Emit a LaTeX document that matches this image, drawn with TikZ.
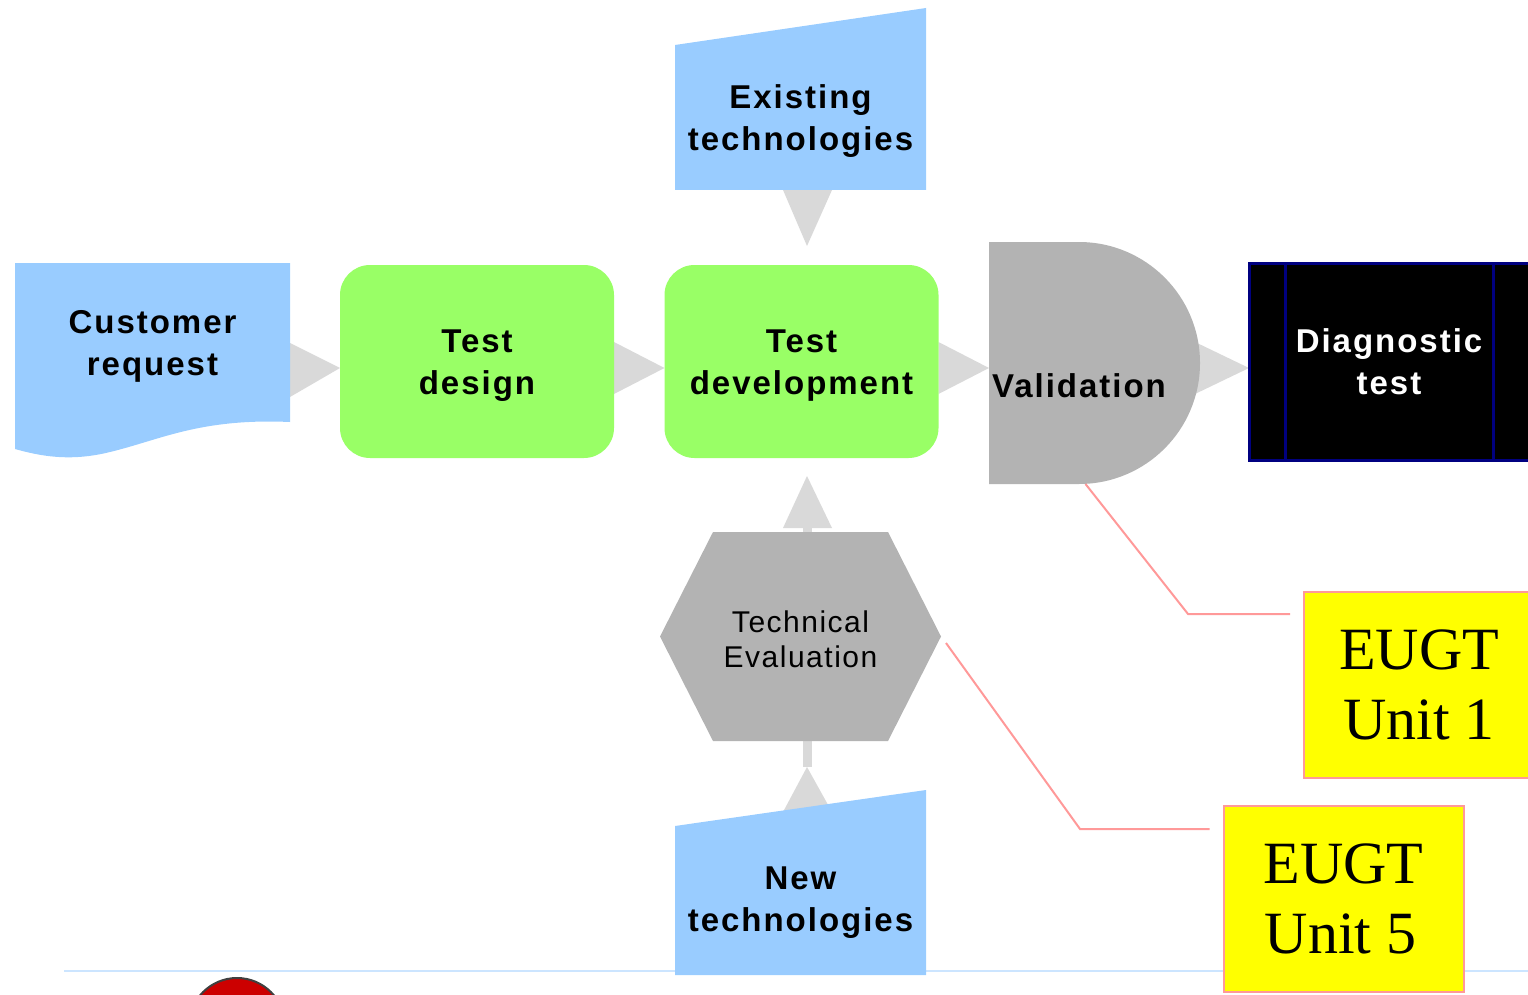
\documentclass[tikz,border=0pt]{standalone}
\usepackage{fontspec}
\setmainfont{Liberation Serif}
\newfontfamily\sansb[LetterSpace=6]{Liberation Sans}
\newfontfamily\sansr[LetterSpace=5]{Liberation Sans}
\usetikzlibrary{calc}
\pgfdeclarelayer{arr}
\pgfdeclarelayer{bg}
\pgfsetlayers{arr,bg,main}
\definecolor{cblue}{HTML}{99CCFF}
\definecolor{cgreen}{HTML}{99FF66}
\definecolor{cgray}{HTML}{B3B3B3}
\definecolor{carrow}{HTML}{D9D9D9}
\definecolor{cnavy}{HTML}{000080}
\definecolor{cyel}{HTML}{FFFF00}
\definecolor{cpink}{HTML}{FF9999}
\definecolor{cline}{HTML}{CCE5FF}
\definecolor{cred}{HTML}{CC0000}
\definecolor{cdark}{HTML}{404040}
\newcommand\lowerA{\rule{0pt}{31pt}}
\newcommand\lowerB{\rule{0pt}{27pt}}
\tikzset{
  shapebox/.style={inner sep=0pt, outer sep=0pt, align=center},
  lbl/.style={font=\sansb\bfseries\fontsize{33}{42}\selectfont},
  lblr/.style={font=\sansr\fontsize{30}{35}\selectfont},
  greenbox/.style={shapebox, lbl, fill=cgreen, rounded corners=30pt, minimum width=274, minimum height=193},
  ybox/.style={shapebox, fill=cyel, draw=cpink, line width=2pt, minimum height=186, font=\fontsize{60}{70}\selectfont},
  arrowfill/.style={fill=carrow},
  conn/.style={draw=cpink, line width=2pt},
}
\begin{document}
\begin{tikzpicture}[x=1pt,y=-1pt]
\useasboundingbox (0,0) rectangle (1528,995);
\clip (0,0) rectangle (1528,995);

% nodes
\node[shapebox,lbl,minimum width=275,minimum height=159] (cust) at (152.5,342.5) {\lowerA Customer\\request};
\node[greenbox] (tdes) at (477,361.5) {\lowerA Test\\design};
\node[greenbox] (tdev) at (801.5,361.5) {\lowerA Test\\development};
\node[shapebox,minimum width=211,minimum height=242,
      label={[lbl,anchor=base,xshift=-15.5pt,yshift=-23pt]center:Validation}] (val) at (1094.5,363) {};
\node[shapebox,lbl,fill=black,draw=cnavy,line width=3pt,text=white,minimum width=280,minimum height=197] (diag) at (1389,361.5) {Diagnostic\\test};
\draw[cnavy,line width=3pt] ($(diag.north west)+(36,0)$) -- ($(diag.south west)+(36,0)$);
\draw[cnavy,line width=3pt] ($(diag.north east)+(-36,0)$) -- ($(diag.south east)+(-36,0)$);
\node[shapebox,lbl,minimum width=251,minimum height=145] (exist) at (800.5,117.5) {\lowerA Existing\\technologies};
\node[shapebox,lbl,minimum width=251,minimum height=149] (new) at (800.5,900.5) {\lowerB New\\technologies};
\node[shapebox,lblr,minimum width=281,minimum height=209] (hex) at (800.5,636.5) {\lowerB Technical\\Evaluation};
\node[ybox,minimum width=230] (eu1) at (1419,685) {EUGT\\Unit 1};
\node[ybox,minimum width=240] (eu2) at (1343.5,899) {EUGT\\Unit 5\hspace*{6pt}};

% shape backgrounds
\begin{pgfonlayer}{bg}
\fill[cblue] (cust.north west) -- (cust.north east) -- (cust.south east)
  .. controls ($(cust.south east)+(-90,-4)$) and ($(cust.south east)+(-130,18)$) .. ($(cust.south east)+(-180,30)$)
  .. controls ($(cust.south east)+(-220,40)$) and ($(cust.south east)+(-250,34)$) .. ($(cust.south east)+(-275,27)$)
  -- cycle;
\fill[cgray] (val.north west) -- ++(90,0) arc[start angle=90,end angle=-90,radius=121pt] -- (val.south west) -- cycle;
\fill[cblue] (exist.south west) -- (exist.north west) -- ($(exist.north east)+(0,-37)$) -- (exist.south east) -- cycle;
\fill[cblue] (new.south west) -- (new.north west) -- ($(new.north east)+(0,-36)$) -- (new.south east) -- cycle;
\fill[cgray] (hex.west) -- ($(hex.north west)+(53,0)$) -- ($(hex.north east)+(-53,0)$) -- (hex.east)
  -- ($(hex.south east)+(-53,0)$) -- ($(hex.south west)+(53,0)$) -- cycle;
\end{pgfonlayer}

% arrows
\begin{pgfonlayer}{arr}
\draw[cline,line width=2pt] (64,971) -- (1528,971);
\fill[arrowfill] ($(cust.east)+(0,0.5)$) -- ($(tdes.west)+(0,6.5)$) -- ($(cust.east)+(0,54.5)$) -- cycle;
\fill[arrowfill] ($(tdes.east)+(0,-19.5)$) -- ($(tdev.west)+(0,6.5)$) -- ($(tdes.east)+(0,32.5)$) -- cycle;
\fill[arrowfill] ($(tdev.east)+(0,-19.5)$) -- ($(val.west)+(0,5)$) -- ($(tdev.east)+(0,32.5)$) -- cycle;
\fill[arrowfill] ($(val.east)+(-5,-21)$) -- ($(diag.west)+(0,6.5)$) -- ($(val.east)+(-5,31)$) -- cycle;
\fill[arrowfill] ($(exist.south)+(-17.5,0)$) -- ($(tdev.north)+(5.5,-19)$) -- ($(exist.south)+(31.5,0)$) -- cycle;
\fill[arrowfill] ($(hex.north)+(-17.5,-4)$) -- ($(tdev.south)+(5.5,18)$) -- ($(hex.north)+(31.5,-4)$) -- cycle;
\fill[arrowfill] ($(hex.north)+(2.5,-4)$) rectangle ($(hex.north)+(11.5,0)$);
\fill[arrowfill] ($(hex.south)+(2.5,0)$) rectangle ($(hex.south)+(11.5,26)$);
\fill[arrowfill] ($(new.north)+(-17.5,-14)$) -- ($(hex.south)+(6.5,26)$) -- ($(new.north)+(31.5,-14)$) -- cycle;
\end{pgfonlayer}

% callout connectors
\coordinate (k1) at (1188,614);
\coordinate (k2) at (1080,829);
\draw[conn] ($(val.south)+(-9,0)$) -- (k1) -- ($(k1 -| eu1.west)+(-14,0)$);
\draw[conn] ($(hex.east)+(5,6.5)$) -- (k2) -- ($(k2 -| eu2.west)+(-14,0)$);

% partial red circle
\draw[fill=cred,draw=cdark,line width=2pt] (237,1026) circle[radius=48pt];
\end{tikzpicture}
\end{document}
